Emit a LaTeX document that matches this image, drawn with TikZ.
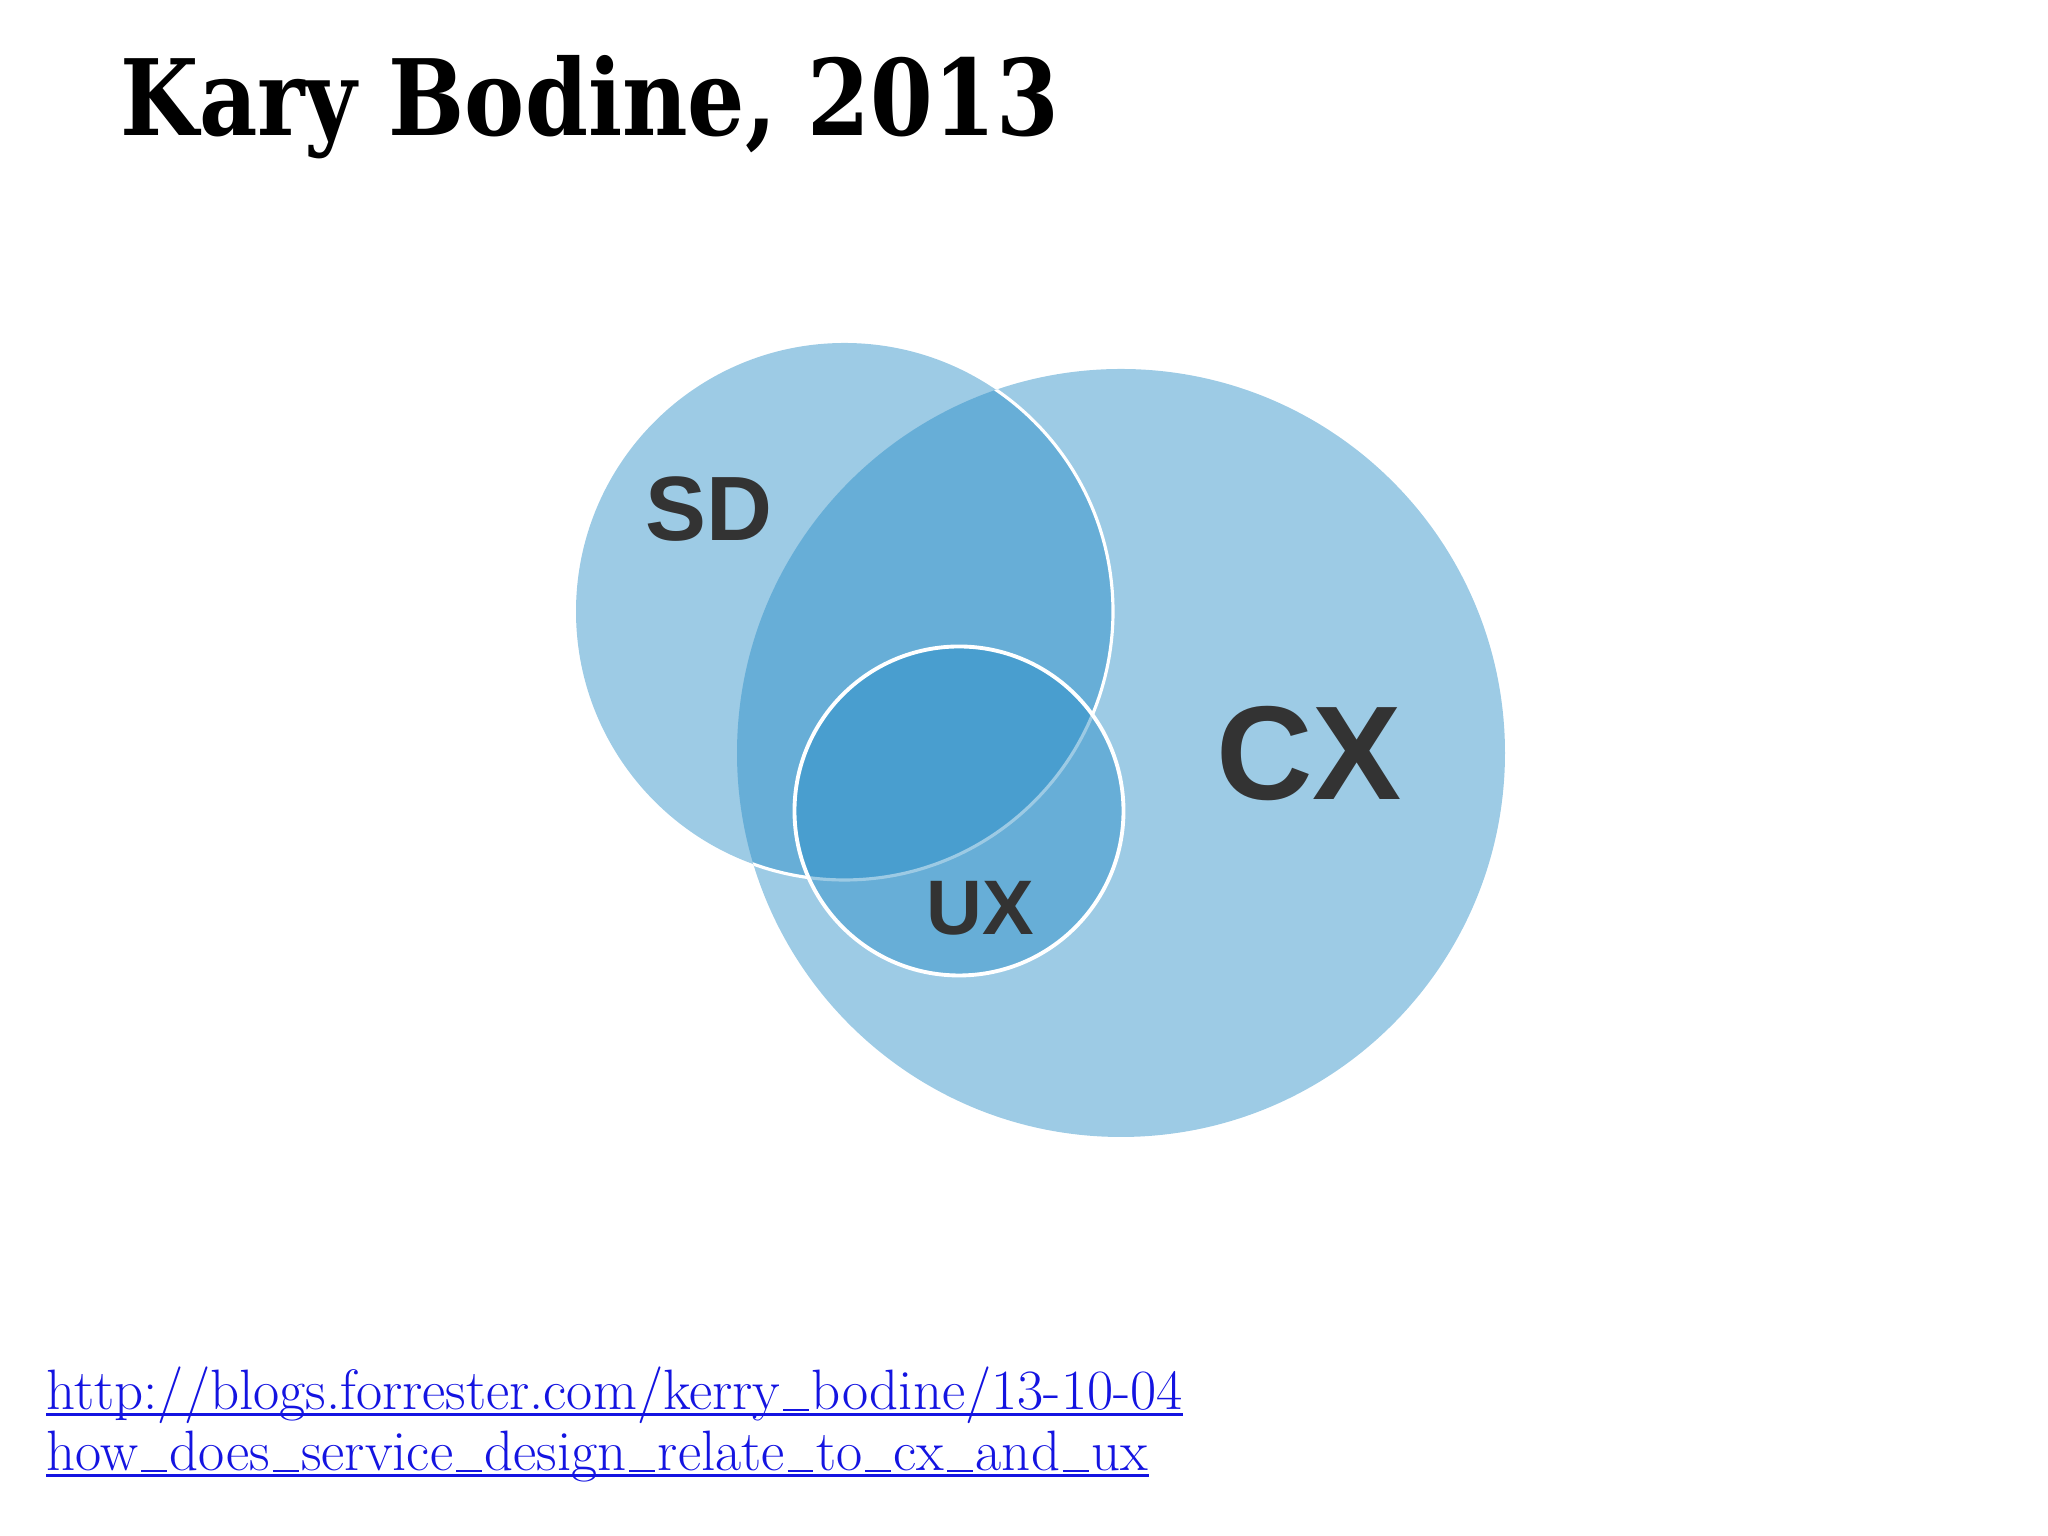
\documentclass[tikz,border=0pt]{standalone}
\usepackage{fontspec}
\newfontfamily\titlefont[FakeStretch=0.855]{DejaVu Serif}
\newfontfamily\labelfont{Liberation Sans}
\definecolor{venn}{RGB}{37,139,197}
\definecolor{labelgray}{RGB}{51,51,51}
\definecolor{linkblue}{RGB}{20,20,225}
\newcommand\us{\leavevmode\kern.05em\lower.4pt\vbox{\hrule width.45em height.6pt}\kern.05em}

\begin{document}
\begin{tikzpicture}[
    set/.style={
      fill=venn,
      fill opacity=0.45
    },
    rim/.style={
      draw=white,
      line width=1.1pt
    },
    setname/.style={
      font=\labelfont\bfseries\fontsize{#1}{#1}\selectfont,
      text=labelgray,
      inner sep=0pt
    },
    link/.style={
      font=\fontsize{16.2}{18}\selectfont,
      text=linkblue,
      anchor=base west,
      inner sep=0pt
    },
    linkrule/.style={
      draw=linkblue,
      line width=0.9pt
    },
  ]
  \useasboundingbox (0,0) rectangle (20.48,15.36);

  \coordinate (sd) at (8.445, 9.245);
  \coordinate (cx) at (11.21, 7.83);
  \coordinate (ux) at (9.59, 7.25);

  \fill [set] (sd) circle [radius=2.685];
  \fill [set] (cx) circle [radius=3.84];

  % white rim of SD only where it lies over CX
  \begin{scope}
    \clip (cx) circle [radius=3.84];
    \draw [rim, line width=0.9pt] (sd) circle [radius=2.685];
  \end{scope}
  \fill [set] (ux) circle [radius=1.645];
  \draw [rim] (ux) circle [radius=1.645];

  \node [setname=26] (SD) at (7.09, 10.27) {SD};
  \node [setname=38] (CX) at (13.09, 7.82) {CX};
  \node [setname=22] (UX) at (9.80, 6.28) {UX};

  \node [font=\titlefont\bfseries\fontsize{30}{36}\selectfont, anchor=base west,
         inner sep=0pt] (title) at (1.2, 14.0) {Kary Bodine, 2013};

  \node [link] (url1) at (0.46, 1.26)
        {http://blogs.forrester.com/kerry\us bodine/13-10-04};
  \node [link] (url2) at (0.46, 0.65)
        {how\us does\us service\us design\us relate\us to\us cx\us and\us ux};
  \draw [linkrule] ([yshift=-1.3pt]url1.base west) -- ([yshift=-1.3pt]url1.base east);
  \draw [linkrule] ([yshift=-1.3pt]url2.base west) -- ([yshift=-1.3pt]url2.base east);
\end{tikzpicture}
\end{document}
